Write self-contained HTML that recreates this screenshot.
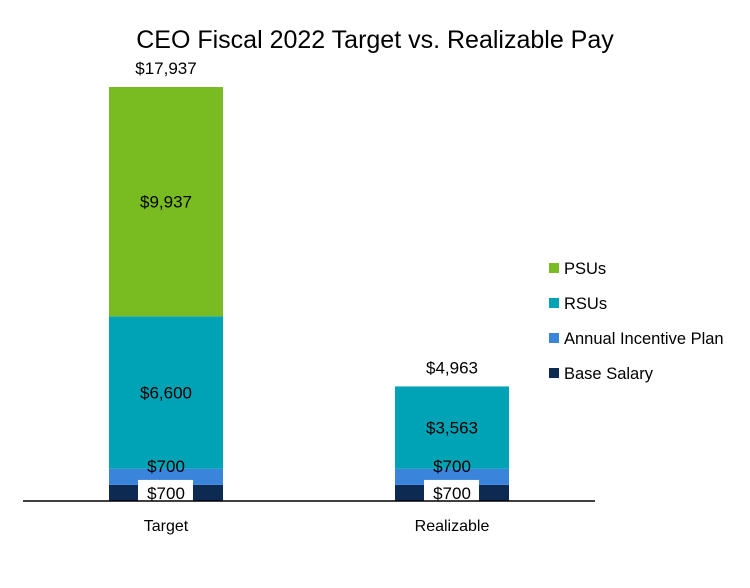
<!DOCTYPE html>
<html><head><meta charset="utf-8"><style>
html,body{margin:0;padding:0;background:#fff;}
svg{display:block;font-family:"Liberation Sans",Calibri,sans-serif;}
</style></head><body>
<svg id="chart" width="750" height="588" viewBox="0 0 750 588">
<text x="375" y="48" text-anchor="middle" font-size="25" fill="#000">CEO Fiscal 2022 Target vs. Realizable Pay</text>
<g id="bars"></g>
<g id="labels"></g>
<line x1="23" y1="501" x2="595" y2="501" stroke="#000" stroke-width="1.5"/>
<g id="legend"></g>
</svg>
<script>
const categories = ["Target", "Realizable"];
const seriesNames = ["Base Salary", "Annual Incentive Plan", "RSUs", "PSUs"];
const baseSalary = [700, 700];
const annualIncentive = [700, 700];
const rsus = [6600, 3563];
const psus = [9937, 0];
const totals = [17937, 4963];

const colors = ["#0c2a52", "#3a84dc", "#00a3b5", "#78bc22"];
const series = [baseSalary, annualIncentive, rsus, psus];
const svgNS = "http://www.w3.org/2000/svg";
const baseY = 501, topY = 87, maxV = 17937;
const yScale = v => v * (baseY - topY) / maxV;
const xCenter = i => 166 + i * 286;
const barW = 114;
const g = document.getElementById("bars");
const lb = document.getElementById("labels");
function mk(tag, attrs){const e=document.createElementNS(svgNS,tag);for(const k in attrs)e.setAttribute(k,attrs[k]);return e;}
const fmt = v => "$" + v.toLocaleString("en-US");
categories.forEach((c, i) => {
  let y = baseY;
  series.forEach((s, j) => {
    const v = s[i];
    if (!v) return;
    const h = yScale(v);
    y -= h;
    const r = mk("rect", {x: xCenter(i) - barW/2, y: y, width: barW, height: h, fill: colors[j]});
    
    
    g.appendChild(r);
    const cy = y + h/2;
    if (j === 0) {
      const bg = mk("rect", {x: xCenter(i) - 28, y: cy - 13, width: 55, height: 25, fill: "#fff"});
      
      
      lb.appendChild(bg);
    }
    const t = mk("text", {x: xCenter(i), y: (j === 1 ? cy - 5 : cy + 6), "text-anchor": "middle", "font-size": "17", fill: "#000"});
    t.textContent = fmt(v);
    
    
    lb.appendChild(t);
  });
  const tt = mk("text", {x: xCenter(i), y: baseY - yScale(totals[i]) - 13, "text-anchor": "middle", "font-size": "17", fill: "#000"});
  tt.textContent = fmt(totals[i]);
  
  
  lb.appendChild(tt);
  const ct = mk("text", {x: xCenter(i), y: 531, "text-anchor": "middle", "font-size": "16", fill: "#000"});
  ct.textContent = c;
  
  
  lb.appendChild(ct);
});
const lg = document.getElementById("legend");
[3,2,1,0].forEach((j, k) => {
  const y = 268 + k * 35;
  const r = mk("rect", {x: 549, y: y - 5, width: 10, height: 10, fill: colors[j]});
  
  
  lg.appendChild(r);
  const t = mk("text", {x: 564, y: y + 6, "font-size": "16.5", fill: "#000"});
  t.textContent = seriesNames[j];
  
  
  lg.appendChild(t);
});
</script>
</body></html>
